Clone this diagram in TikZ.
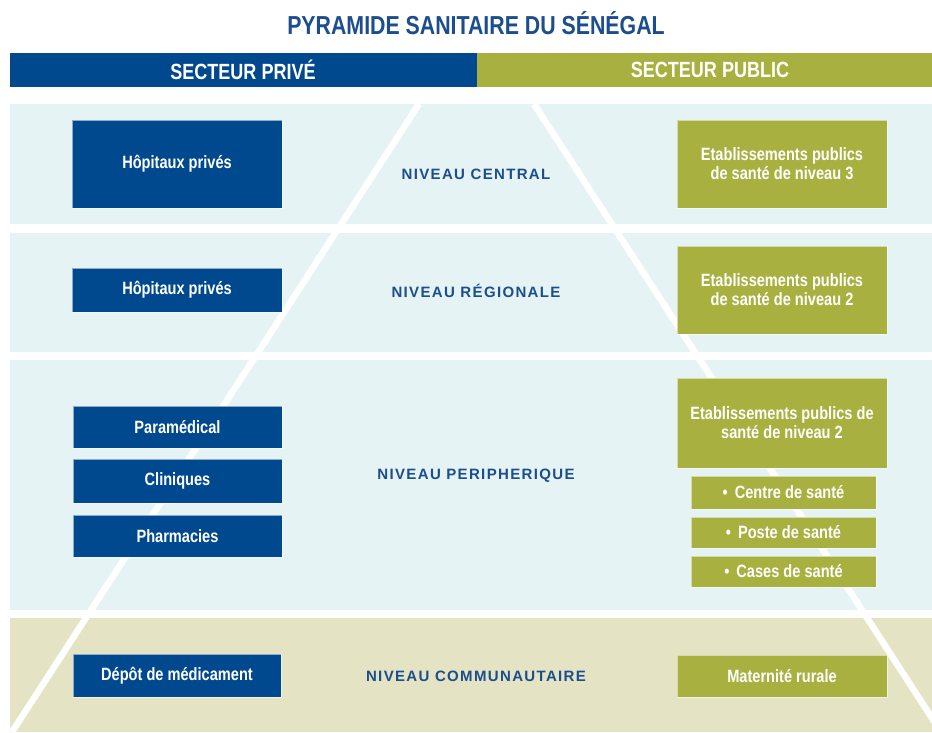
\documentclass[tikz,border=0pt]{standalone}
\usepackage{fontspec}
\setmainfont{Liberation Sans}
\newfontfamily\narrowfont[FakeStretch=0.82]{Liberation Sans}
\newfontfamily\spacedfont[LetterSpace=9]{Liberation Sans}
\definecolor{pblue}{RGB}{0,73,143}
\definecolor{pgreen}{RGB}{168,176,64}
\definecolor{bandblue}{RGB}{229,243,244}
\definecolor{bandbeige}{RGB}{228,227,196}
\definecolor{titleblue}{RGB}{28,77,140}
\tikzset{
  boxbase/.style={draw=white, draw opacity=0.55, line width=0.8pt, text=white, align=center,
    inner sep=0pt, font=\narrowfont\bfseries\fontsize{17.8}{19}\selectfont},
  bluebox/.style={boxbase, fill=pblue},
  greenbox/.style={boxbase, fill=pgreen},
  levellabel/.style={text=titleblue, font=\spacedfont\bfseries\fontsize{15}{18}\selectfont},
  headtext/.style={text=white, font=\narrowfont\bfseries\fontsize{22}{26}\selectfont},
  pyrline/.style={draw=white, line width=6.5pt}
}
\begin{document}
\begin{tikzpicture}[x=1pt,y=-1pt]
\useasboundingbox (0,0) rectangle (932,732);
\fill[white] (0,0) rectangle (932,732);
% title
\node[text=titleblue, font=\narrowfont\bfseries\fontsize{26}{30}\selectfont] (title) at (476,23) {PYRAMIDE SANITAIRE DU SÉNÉGAL};
% header bar
\fill[pblue] (10,53) rectangle (477,87);
\fill[pgreen] (477,53) rectangle (932,87);
\node[headtext] (hprive) at (243,69.5) {SECTEUR PRIVÉ};
\node[headtext] (hpublic) at (710,69.5) {SECTEUR PUBLIC};
% bands
\fill[bandblue] (10,104) rectangle (932,224);
\fill[bandblue] (10,233) rectangle (932,352);
\fill[bandblue] (10,360) rectangle (932,610);
\fill[bandbeige] (10,618) rectangle (932,732);
% pyramid lines
\begin{scope}
\clip (10,104) rectangle (932,732);
\draw[pyrline] (419,104) -- (12,732);
\draw[pyrline] (534,104) -- (941,732);
\end{scope}
% level labels
\node[levellabel] (lc) at (476,174) {NIVEAU CENTRAL};
\node[levellabel] (lr) at (476,291) {NIVEAU RÉGIONALE};
\node[levellabel] (lp) at (476,476) {NIVEAU PERIPHERIQUE};
\node[levellabel] (lco) at (476,676) {NIVEAU COMMUNAUTAIRE};
% private boxes
\node[bluebox, minimum width=210pt, minimum height=88pt] (hp1) at (177,164) {Hôpitaux privés};
\node[bluebox, minimum width=210pt, minimum height=44pt] (hp2) at (177,290) {Hôpitaux privés};
\node[bluebox, minimum width=209pt, minimum height=42pt] (para) at (177.5,427) {Paramédical};
\node[bluebox, minimum width=209pt, minimum height=44pt] (clin) at (177.5,481) {Cliniques};
\node[bluebox, minimum width=209pt, minimum height=42pt] (pharm) at (177.5,536) {Pharmacies};
\node[bluebox, minimum width=208pt, minimum height=43pt] (depot) at (177,675.5) {Dépôt de médicament};
% public boxes
\node[greenbox, minimum width=210pt, minimum height=88pt] (ep3) at (782,164) {Etablissements publics\\de santé de niveau 3};
\node[greenbox, minimum width=210pt, minimum height=88pt] (ep2a) at (782,290) {Etablissements publics\\de santé de niveau 2};
\node[greenbox, minimum width=210pt, minimum height=90pt] (ep2b) at (782,423) {Etablissements publics de\\santé de niveau 2};
\node[greenbox, minimum width=185pt, minimum height=33pt] (centre) at (783.5,492.5) {•\, Centre de santé};
\node[greenbox, minimum width=185pt, minimum height=31pt] (poste) at (783.5,532.5) {•\, Poste de santé};
\node[greenbox, minimum width=185pt, minimum height=31pt] (cases) at (783.5,571.5) {•\, Cases de santé};
\node[greenbox, minimum width=210pt, minimum height=42pt] (mat) at (782,676) {Maternité rurale};
\end{tikzpicture}
\end{document}
